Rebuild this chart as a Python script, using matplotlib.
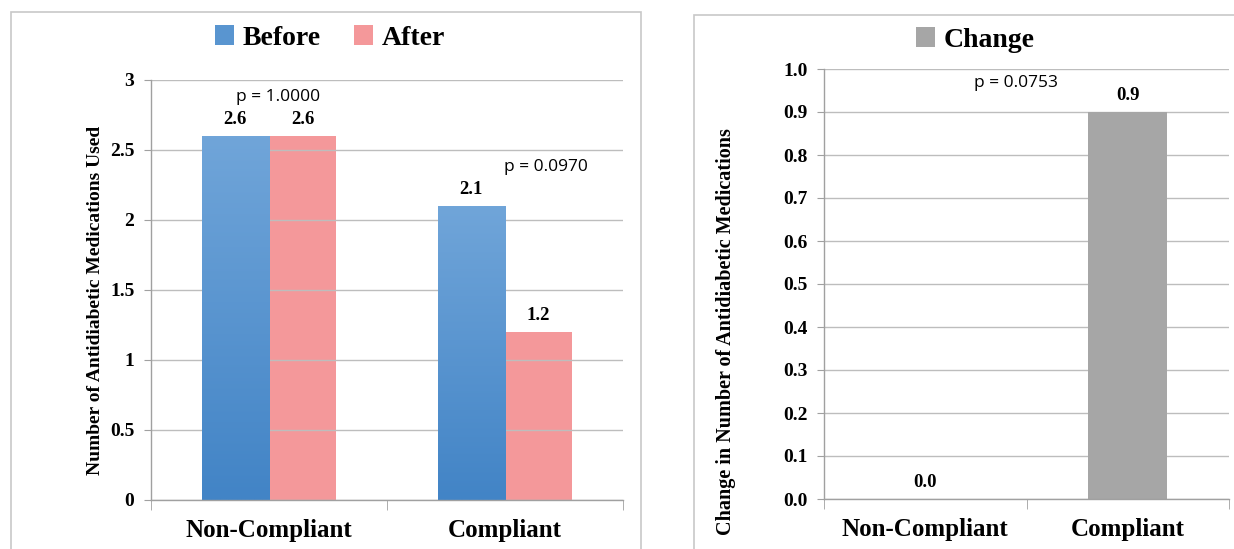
import matplotlib.pyplot as plt
import numpy as np
from matplotlib.patches import Rectangle
from matplotlib.ticker import FixedLocator, FormatStrFormatter

categories = ['Non-Compliant', 'Compliant']
before = [2.6, 2.1]
after = [2.6, 1.2]
change = [0.0, 0.9]
p_left = ['p = 1.0000', 'p = 0.0970']
p_right = 'p = 0.0753'

SERIF = 'Liberation Serif'
SANS = 'Open Sans'
BLUE_TOP = np.array([0x70, 0xa5, 0xd9]) / 255.
BLUE_BOT = np.array([0x42, 0x84, 0xc6]) / 255.
PINK = '#f4989a'
GRAY = '#a6a6a6'
GRID = '#bdbdbd'


def style_axes(ax):
    for s in ['top', 'right']:
        ax.spines[s].set_visible(False)
    for s in ['left', 'bottom']:
        ax.spines[s].set_color('#a0a0a0')
        ax.spines[s].set_linewidth(1.0)
    ax.yaxis.grid(True, color=GRID, linewidth=1.0)
    ax.set_axisbelow(True)
    ax.tick_params(axis='y', length=5, color='#a0a0a0', pad=7)
    ax.tick_params(axis='x', which='major', length=0, pad=14)
    ax.xaxis.set_minor_locator(FixedLocator([-0.5, 0.5, 1.5]))
    ax.tick_params(axis='x', which='minor', length=7, color='#a0a0a0')
    for lab in ax.get_yticklabels():
        lab.set_fontfamily(SERIF)
        lab.set_fontweight('bold')
        lab.set_fontsize(14)
    for lab in ax.get_xticklabels():
        lab.set_fontfamily(SERIF)
        lab.set_fontweight('bold')
        lab.set_fontsize(18)


def gradient_bar(ax, x, w, h):
    n = 100
    grad = np.linspace(0, 1, n).reshape(-1, 1, 1)
    img = BLUE_BOT * grad + BLUE_TOP * (1 - grad)
    img = np.repeat(img, 2, axis=1)
    ax.imshow(img, extent=(x - w / 2, x + w / 2, 0, h), aspect='auto',
              origin='upper', zorder=2, interpolation='bilinear')


fig = plt.figure(figsize=(12.34, 5.49), dpi=100)

# panel frames
fig.patches.append(Rectangle((11 / 1234, -0.05), 630 / 1234, 1.05 - 12 / 549,
                             transform=fig.transFigure, fill=False,
                             edgecolor='#c8c8c8', linewidth=1.2))
fig.patches.append(Rectangle((694 / 1234, -0.05), 0.5, 1.05 - 15 / 549,
                             transform=fig.transFigure, fill=False,
                             edgecolor='#c8c8c8', linewidth=1.2))

# left chart
ax1 = fig.add_axes([151 / 1234, 49 / 549, 472 / 1234, 420 / 549])
x = np.arange(len(categories))
w = 0.285
for i in x:
    gradient_bar(ax1, i - w / 2, w, before[i])
ax1.bar(x + w / 2, after, w, color=PINK, zorder=0.3)
ax1.set_xlim(-0.5, 1.5)
ax1.set_ylim(0, 3)
ax1.set_yticks([0, 0.5, 1, 1.5, 2, 2.5, 3])
ax1.yaxis.set_major_formatter(FormatStrFormatter('%g'))
ax1.set_xticks(x)
ax1.set_xticklabels(categories)
style_axes(ax1)
ax1.set_ylabel('Number of Antidiabetic Medications Used', fontfamily=SERIF,
               fontweight='bold', fontsize=14)
ax1.yaxis.set_label_coords(-0.100, 0.476)
for i in x:
    ax1.annotate(f'{before[i]:.1f}', (i - w / 2, before[i]), xytext=(0, 6),
                 textcoords='offset points', ha='center', va='bottom',
                 fontfamily=SERIF, fontweight='bold', fontsize=13.5)
    ax1.annotate(f'{after[i]:.1f}', (i + w / 2, after[i]), xytext=(0, 6),
                 textcoords='offset points', ha='center', va='bottom',
                 fontfamily=SERIF, fontweight='bold', fontsize=13.5)
ax1.text(0.04, 2.88, p_left[0], ha='center', va='center', fontfamily=SANS, fontsize=12.5)
ax1.text(1.175, 2.38, p_left[1], ha='center', va='center', fontfamily=SANS, fontsize=12.5)

h_before = Rectangle((0, 0), 1, 1, facecolor=(BLUE_TOP + BLUE_BOT) / 2)
h_after = Rectangle((0, 0), 1, 1, facecolor=PINK)
fig.legend([h_before, h_after], ['Before', 'After'], loc='center',
           bbox_to_anchor=(330 / 1234, 1 - 38 / 549), ncol=2, frameon=False,
           prop={'family': SERIF, 'weight': 'bold', 'size': 20},
           handlelength=0.7, handleheight=0.7, handletextpad=0.3, columnspacing=1.2)

# right chart
ax2 = fig.add_axes([824 / 1234, 50 / 549, 405 / 1234, 430 / 549])
w2 = 0.39
ax2.bar(x, change, w2, color=GRAY, zorder=2)
ax2.set_xlim(-0.5, 1.5)
ax2.set_ylim(0, 1.0)
ax2.set_yticks(np.arange(0, 11) / 10)
ax2.yaxis.set_major_formatter(FormatStrFormatter('%.1f'))
ax2.set_xticks(x)
ax2.set_xticklabels(categories)
style_axes(ax2)
ax2.set_ylabel('Change in Number of Antidiabetic Medications', fontfamily=SERIF,
               fontweight='bold', fontsize=14.5)
ax2.yaxis.set_label_coords(-0.217, 0.39)
for i in x:
    ax2.annotate(f'{change[i]:.1f}', (i, change[i]), xytext=(0, 6),
                 textcoords='offset points', ha='center', va='bottom',
                 fontfamily=SERIF, fontweight='bold', fontsize=13.5)
ax2.text(0.45, 0.967, p_right, ha='center', va='center', fontfamily=SANS, fontsize=12.5)

h_change = Rectangle((0, 0), 1, 1, facecolor=GRAY)
fig.legend([h_change], ['Change'], loc='center',
           bbox_to_anchor=(975 / 1234, 1 - 40 / 549), frameon=False,
           prop={'family': SERIF, 'weight': 'bold', 'size': 20},
           handlelength=0.7, handleheight=0.7, handletextpad=0.3)

fig.savefig('out.png', dpi=100)
